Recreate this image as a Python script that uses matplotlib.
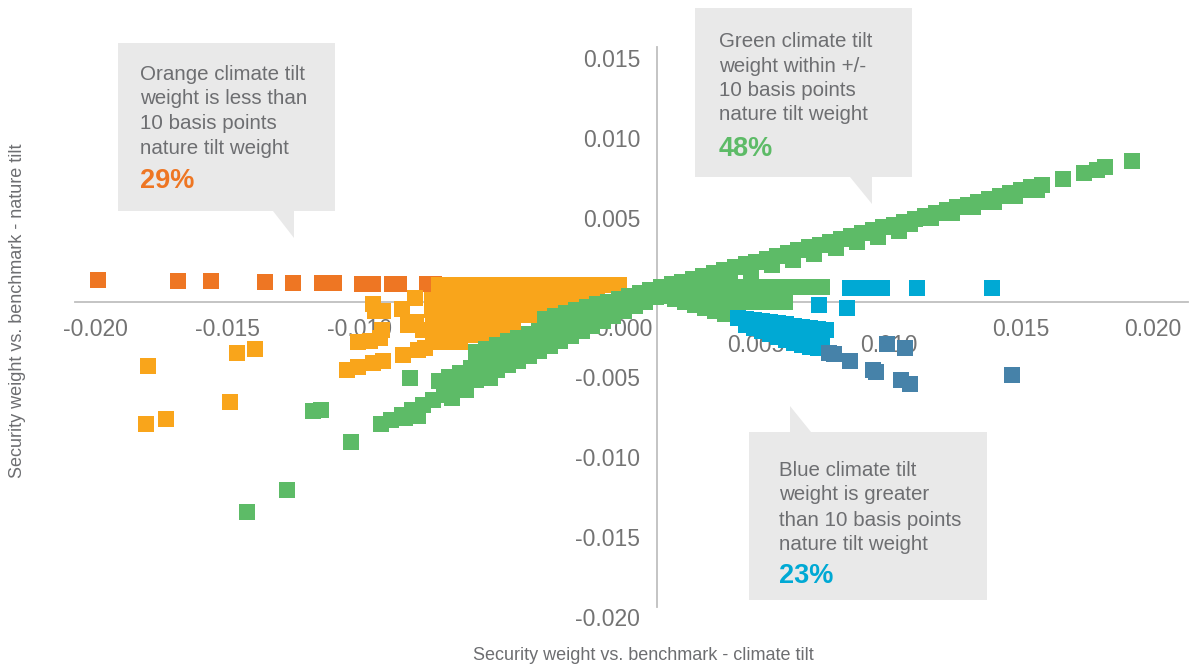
import matplotlib
matplotlib.use("Agg")
import matplotlib.pyplot as plt
import matplotlib.transforms as mtransforms
from matplotlib.patches import Polygon

plt.rcParams["font.family"] = ["Liberation Sans", "DejaVu Sans"]
plt.rcParams["axes.unicode_minus"] = False

W, H = 1191, 665

# ---- data (security weight vs. benchmark: x = climate tilt, y = nature tilt) ----
dark_orange_x = [-0.01989, -0.01686, -0.01561, -0.01357, -0.01251, -0.01142, -0.01096,
                 -0.00991, -0.00949, -0.00877, -0.00851, -0.00745, -0.00718]
dark_orange_y = [0.00110, 0.00104, 0.00104, 0.00098, 0.00091, 0.00091, 0.00091,
                 0.00085, 0.00085, 0.00085, 0.00085, 0.00085, 0.00085]

# dense orange fan, one row per nature-tilt level
orange_rows = [
    (0.00079, [-0.0070, -0.0066, -0.0062, -0.0058, -0.0054, -0.0050, -0.0046, -0.0042, -0.0038,
               -0.0034, -0.0030, -0.0026, -0.0022, -0.0018, -0.0014, -0.0010, -0.0006, -0.0002]),
    (0.00016, [-0.0070, -0.0066, -0.0062, -0.0058, -0.0054, -0.0050, -0.0046, -0.0042, -0.0038,
               -0.0034, -0.0030, -0.0026, -0.0022, -0.0018, -0.0014, -0.0010]),
    (-0.00046, [-0.0070, -0.0066, -0.0062, -0.0058, -0.0054, -0.0050, -0.0046, -0.0042, -0.0038,
                -0.0034, -0.0030, -0.0026, -0.0022]),
    (-0.00109, [-0.0070, -0.0066, -0.0062, -0.0058, -0.0054, -0.0050, -0.0046, -0.0042, -0.0038,
                -0.0034, -0.0030]),
    (-0.00172, [-0.0070, -0.0066, -0.0062, -0.0058, -0.0054, -0.0050, -0.0046, -0.0042]),
    (-0.00234, [-0.0070, -0.0066, -0.0062, -0.0058, -0.0054, -0.0050]),
    (-0.00278, [-0.0070, -0.0066, -0.0062]),
]
orange_x = [-0.00949, -0.00941, -0.00911, -0.00839, -0.00790, -0.00817, -0.00786, -0.00760,
            -0.00915, -0.01006, -0.00960, -0.00923, -0.01047, -0.01006, -0.00949, -0.00911,
            -0.00836, -0.00779, -0.00752, -0.00726, -0.00726, -0.00722, -0.00722,
            -0.01800, -0.01463, -0.01395, -0.01490, -0.01807, -0.01732]
orange_y = [-0.00040, -0.00084, -0.00084, -0.00071, -0.00003, -0.00172, -0.00153, -0.00203,
            -0.00203, -0.00278, -0.00272, -0.00253, -0.00453, -0.00435, -0.00409, -0.00397,
            -0.00359, -0.00328, -0.00316, -0.00015, -0.00078, -0.00153, -0.00228,
            -0.00428, -0.00347, -0.00322, -0.00654, -0.00791, -0.00760]

# green: upper band running to the top right
green_up_x = [-0.0030, -0.0026, -0.0022, -0.0018, -0.0014, -0.0010, -0.0006, -0.0002, 0.0002,
              0.0006, 0.0010, 0.0014, 0.0018, 0.0022, 0.0026, 0.0030, 0.0034, 0.0038, 0.0042,
              0.0046, 0.0050, 0.0054, 0.0058, 0.0062, 0.0066, 0.0070, 0.0074, 0.0078, 0.0082,
              0.0086, 0.0090, 0.0094, 0.0098, 0.0102, 0.0106, 0.0110, 0.0114, 0.0118, 0.0122,
              0.0126, 0.0130, 0.0134, 0.0138, 0.0142, 0.0146, 0.0150, 0.0154, 0.0158,
              0.0166, 0.0174, 0.0179, 0.0182, 0.0192,
              0.0016, 0.0024, 0.0032, 0.0040, 0.0048, 0.0056, 0.0064, 0.0072, 0.0080,
              0.0088, 0.0096, 0.0104,
              0.0108, 0.0116, 0.0124, 0.0132, 0.0140, 0.0148, 0.0156]
green_up_y = [-0.00132, -0.00114, -0.00096, -0.00078, -0.00060, -0.00043, -0.00025, -0.00007,
              0.00011, 0.00029, 0.00047, 0.00064, 0.00082, 0.00100, 0.00118, 0.00136, 0.00154,
              0.00171, 0.00189, 0.00207, 0.00225, 0.00243, 0.00261, 0.00279, 0.00296, 0.00314,
              0.00332, 0.00350, 0.00368, 0.00386, 0.00403, 0.00421, 0.00439, 0.00457, 0.00475,
              0.00493, 0.00510, 0.00528, 0.00546, 0.00564, 0.00582, 0.00600, 0.00617, 0.00635,
              0.00653, 0.00671, 0.00689, 0.00707,
              0.00742, 0.00780, 0.00799, 0.00818, 0.00855,
              0.00023, 0.00059, 0.00095, 0.00130, 0.00166, 0.00202, 0.00237, 0.00273, 0.00309,
              0.00345, 0.00380, 0.00416,
              0.00461, 0.00496, 0.00530, 0.00566, 0.00601, 0.00637, 0.00673]

# green: strands running to the lower left
green_low_x = [-0.0092, -0.0088, -0.0084, -0.0080, -0.0076, -0.0072, -0.0068, -0.0064, -0.0060,
               -0.0056, -0.0052, -0.0048, -0.0044, -0.0040, -0.0036, -0.0032, -0.0028, -0.0024,
               -0.0020, -0.0016, -0.0012, -0.0008, -0.0004, 0.0000, 0.0004, 0.0008, 0.0012,
               -0.0070, -0.0066, -0.0062, -0.0058, -0.0054, -0.0050, -0.0046, -0.0042, -0.0038,
               -0.0034, -0.0030, -0.0026, -0.0022, -0.0018, -0.0014, -0.0010, -0.0006, -0.0002,
               0.0002, 0.0006,
               -0.0056, -0.0052, -0.0048, -0.0044, -0.0040, -0.0036, -0.0032, -0.0028, -0.0024,
               -0.0020, -0.0016, -0.0012, -0.0008, -0.0004, 0.0000, 0.0004, 0.0008,
               -0.00779, -0.00650, -0.00597, -0.00828, -0.00507, -0.01176, -0.01146, -0.01032,
               -0.01274, -0.01425, -0.00809]
green_low_y = [-0.00795, -0.00764, -0.00733, -0.00703, -0.00672, -0.00641, -0.00610, -0.00579,
               -0.00549, -0.00518, -0.00487, -0.00456, -0.00425, -0.00395, -0.00364, -0.00333,
               -0.00302, -0.00271, -0.00241, -0.00210, -0.00179, -0.00148, -0.00117, -0.00087,
               -0.00056, -0.00025, 0.00006,
               -0.00524, -0.00497, -0.00471, -0.00444, -0.00417, -0.00390, -0.00364, -0.00337,
               -0.00310, -0.00283, -0.00257, -0.00230, -0.00203, -0.00176, -0.00150, -0.00123,
               -0.00096, -0.00069, -0.00043, -0.00016,
               -0.00343, -0.00321, -0.00298, -0.00275, -0.00253, -0.00230, -0.00207, -0.00184,
               -0.00162, -0.00139, -0.00116, -0.00094, -0.00071, -0.00048, -0.00025, -0.00002,
               0.00020,
               -0.00741, -0.00629, -0.00578, -0.00752, -0.00503, -0.00710, -0.00704, -0.00904,
               -0.01205, -0.01342, -0.00503]

# green: flat strip and small wedge just right of the origin
green_mid_x = [0.0015, 0.0019, 0.0023, 0.0027, 0.0031, 0.0035, 0.0039, 0.0043, 0.0047, 0.0051,
               0.0055, 0.0059, 0.0063, 0.0067, 0.0071, 0.0075,
               0.0025, 0.0029, 0.0033, 0.0037, 0.0041, 0.0045, 0.0049, 0.0053, 0.0057, 0.0061,
               0.00155, 0.00193, 0.00231, 0.00268, 0.00306, 0.00344, 0.00382]
green_mid_y = [0.00066, 0.00068, 0.00066, 0.00064, 0.00066, 0.00068, 0.00066, 0.00066, 0.00064,
               0.00066, 0.00066, 0.00068, 0.00066, 0.00064, 0.00066, 0.00066,
               -0.00028, -0.00026, -0.00028, -0.00030, -0.00028, -0.00026, -0.00028, -0.00028,
               -0.00030, -0.00028,
               0.00010, -0.00009, -0.00028, -0.00046, -0.00065, -0.00084, -0.00103]

blue_x = [0.00737, 0.00843, 0.00854, 0.00892, 0.00930, 0.00975, 0.01108, 0.01391,
          0.00431, 0.00461, 0.00492, 0.00522, 0.00552, 0.00582, 0.00613, 0.00643, 0.00673,
          0.00703, 0.00733, 0.00764,
          0.00461, 0.00492, 0.00522, 0.00552, 0.00582, 0.00613, 0.00643, 0.00673, 0.00703,
          0.00733,
          0.00507, 0.00567, 0.00628, 0.00688, 0.00748]
blue_y = [-0.00046, -0.00065, 0.00060, 0.00060, 0.00060, 0.00060, 0.00060, 0.00060,
          -0.00128, -0.00134, -0.00140, -0.00146, -0.00153, -0.00159, -0.00165, -0.00178,
          -0.00184, -0.00190, -0.00197, -0.00203,
          -0.00172, -0.00190, -0.00209, -0.00228, -0.00247, -0.00265, -0.00284, -0.00297,
          -0.00309, -0.00316,
          -0.00160, -0.00190, -0.00220, -0.00245, -0.00265]

steel_x = [0.00775, 0.00794, 0.00854, 0.00941, 0.00953, 0.00994, 0.01062, 0.01047, 0.01081, 0.01467]
steel_y = [-0.00347, -0.00353, -0.00397, -0.00453, -0.00466, -0.00291, -0.00316, -0.00516,
           -0.00541, -0.00485]

x_ticks = [-0.020, -0.015, -0.010, -0.005, 0.000, 0.005, 0.010, 0.015, 0.020]
y_ticks = [0.015, 0.010, 0.005, -0.005, -0.010, -0.015, -0.020]
x_ticks_dropped = [0.005, 0.010]   # these two labels sit one row lower in the original

callout_lines = [
    ["Orange climate tilt", "weight is less than", "10 basis points", "nature tilt weight"],
    ["Green climate tilt", "weight within +/-", "10 basis points", "nature tilt weight"],
    ["Blue climate tilt", "weight is greater", "than 10 basis points", "nature tilt weight"],
]
callout_shares = ["29%", "48%", "23%"]

DARK_ORANGE = "#EE7623"
ORANGE = "#F9A51B"
GREEN = "#5DBB67"
BLUE = "#00A9D4"
STEEL = "#4682A9"
BOX = "#E9E9E9"
TEXT = "#6D6E71"
TICK = "#737373"
AXIS = "#BFBFBF"

# ---- figure ----
fig = plt.figure(figsize=(W / 100, H / 100), dpi=100)
ax = fig.add_axes([0, 0, 1, 1])
ax.set_xlim(-0.02359, 0.02144)
ax.set_ylim(-0.02301, 0.01863)

for side in ("top", "right"):
    ax.spines[side].set_visible(False)
ax.spines["bottom"].set_position(("data", -0.00031))
ax.spines["left"].set_position(("data", 0.00125))
ax.spines["bottom"].set_bounds(-0.02076, 0.02132)
ax.spines["left"].set_bounds(-0.01937, 0.01569)
for side in ("bottom", "left"):
    ax.spines[side].set_color(AXIS)
    ax.spines[side].set_linewidth(1.3)
    ax.spines[side].set_zorder(1)

ax.set_xticks(x_ticks)
ax.set_xticklabels([f"{t:.3f}" for t in x_ticks])
ax.set_yticks(y_ticks)
ax.set_yticklabels([f"{t:.3f}" for t in y_ticks])
ax.tick_params(length=0, labelsize=16.5, labelcolor=TICK)
ax.tick_params(axis="x", pad=11)
ax.tick_params(axis="y", pad=12)

drop = mtransforms.ScaledTranslation(0, -16 / 100, fig.dpi_scale_trans)
for t, tick in zip(x_ticks, ax.xaxis.get_major_ticks()):
    if t in x_ticks_dropped:
        tick.label1.set_transform(tick.label1.get_transform() + drop)

ms = (16 * 72 / 100) ** 2
kw = dict(marker="s", s=ms, linewidths=0)
ax.scatter(dark_orange_x, dark_orange_y, color=DARK_ORANGE, zorder=3, **kw)
for ry, rxs in orange_rows:
    ax.scatter(rxs, [ry] * len(rxs), color=ORANGE, zorder=3.1, **kw)
ax.scatter(orange_x, orange_y, color=ORANGE, zorder=3.1, **kw)
ax.scatter(green_low_x, green_low_y, color=GREEN, zorder=4, **kw)
ax.scatter(green_up_x, green_up_y, color=GREEN, zorder=4, **kw)
ax.scatter(green_mid_x, green_mid_y, color=GREEN, zorder=4, **kw)
ax.scatter(blue_x, blue_y, color=BLUE, zorder=5, **kw)
ax.scatter(steel_x, steel_y, color=STEEL, zorder=5.1, **kw)


def fpt(px, py):
    return (px / W, 1 - py / H)


# callout boxes (pixel layout)
boxes = [
    [(118, 43), (335, 43), (335, 211), (294, 211), (294, 238), (273, 211), (118, 211)],
    [(695, 8), (912, 8), (912, 177), (872, 177), (872, 204), (850, 177), (695, 177)],
    [(749, 432), (790, 432), (790, 406), (811, 432), (987, 432), (987, 600), (749, 600)],
]
text_x = [140, 719, 779]
text_base = [[80, 104.5, 129, 153.5, 188], [47, 71.5, 96, 120.5, 156], [475.5, 500.5, 525.5, 550, 583]]
share_colors = [DARK_ORANGE, GREEN, BLUE]

for verts, lines, share, tx, bases, sc in zip(boxes, callout_lines, callout_shares,
                                              text_x, text_base, share_colors):
    fig.patches.append(Polygon([fpt(*v) for v in verts], closed=True, facecolor=BOX,
                               edgecolor="none", transform=fig.transFigure, zorder=6))
    for line, b in zip(lines, bases[:4]):
        fig.text(*fpt(tx, b), line, fontsize=14.8, color=TEXT, ha="left", va="baseline", zorder=7)
    fig.text(*fpt(tx, bases[4]), share, fontsize=19.5, fontweight="bold", color=sc,
             ha="left", va="baseline", zorder=7)

fig.text(*fpt(643, 655), "Security weight vs. benchmark - climate tilt", fontsize=13,
         color=TEXT, ha="center", va="center")
fig.text(*fpt(18, 311), "Security weight vs. benchmark - nature tilt", fontsize=13,
         color=TEXT, ha="center", va="center", rotation=90)

fig.savefig("out.png", dpi=100)
plt.close(fig)
